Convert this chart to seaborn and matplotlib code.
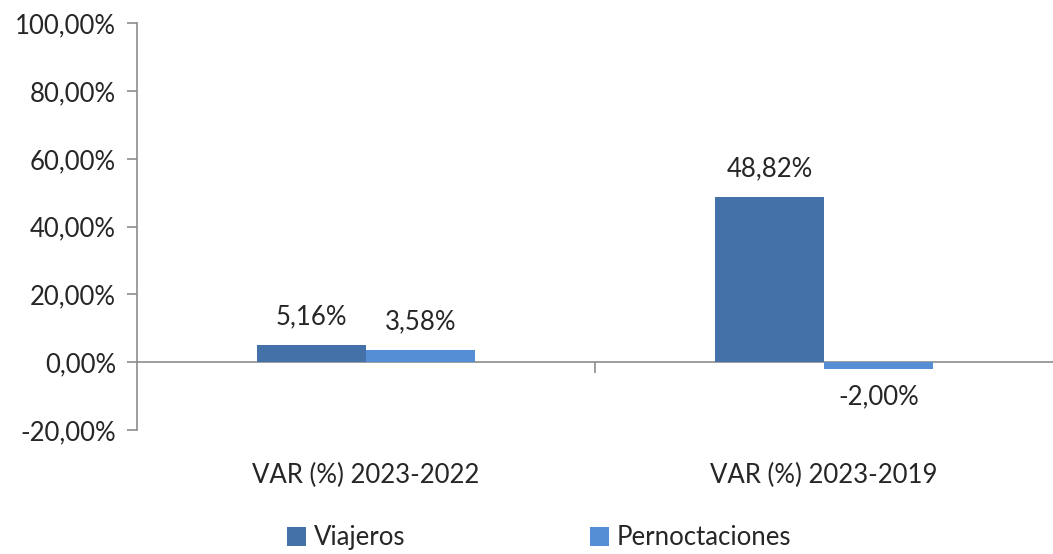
import pandas as pd
import matplotlib.pyplot as plt
import seaborn as sns

# data
periodos = ["VAR (%) 2023-2022", "VAR (%) 2023-2019"]
viajeros = [5.16, 48.82]
pernoctaciones = [3.58, -2.00]
series = ["Viajeros", "Pernoctaciones"]
colores = ["#4472A8", "#558ED5"]

df = pd.DataFrame({
    "periodo": periodos * 2,
    "valor": viajeros + pernoctaciones,
    "serie": [series[0]] * 2 + [series[1]] * 2,
})

sns.set_style("white")
plt.rcParams['font.family'] = ['Lato', 'DejaVu Sans']
FS = 18.5

fig = plt.figure(figsize=(10.53, 5.54), dpi=100)
ax = fig.add_axes([0.130, 0.224, 0.870, 0.734])

sns.barplot(data=df, x="periodo", y="valor", hue="serie", palette=colores,
            width=0.475, gap=0, saturation=1, linewidth=0, ax=ax, legend=True)

# value labels
for cont in ax.containers:
    labels = [f"{v:.2f}%".replace(".", ",") for v in cont.datavalues]
    ax.bar_label(cont, labels=labels, padding=11, fontsize=FS)

ax.set_ylim(-20, 100)
ax.set_xlim(-0.5, 1.5)
ax.set_yticks(range(-20, 101, 20))
ax.set_yticklabels([f"{t},00%" for t in range(-20, 101, 20)], fontsize=FS)
ax.set_xticks(range(len(periodos)))
ax.set_xticklabels(periodos, fontsize=FS)
ax.tick_params(axis="x", length=0, pad=24)
ax.tick_params(axis="y", direction="out", length=7, color="#8c8c8c", width=1.2, left=True, pad=8)
ax.set_xlabel("")
ax.set_ylabel("")

for s in ["top", "right", "bottom"]:
    ax.spines[s].set_visible(False)
ax.spines["left"].set_color("#8c8c8c")
ax.spines["left"].set_linewidth(1.2)

# zero line with category separator tick
sec = ax.secondary_xaxis(20 / 120)
sec.set_xticks([0.5])
sec.set_xticklabels([""])
sec.tick_params(direction="out", length=8, color="#8c8c8c", width=1.2)
sec.spines["bottom"].set_color("#8c8c8c")
sec.spines["bottom"].set_linewidth(1.2)

leg = ax.legend(loc="center", bbox_to_anchor=(0.439, -0.265), ncol=2, frameon=False,
                fontsize=FS, handlelength=0.75, handleheight=0.75, handletextpad=0.3,
                columnspacing=7.2)

fig.savefig("out.png", dpi=100)
